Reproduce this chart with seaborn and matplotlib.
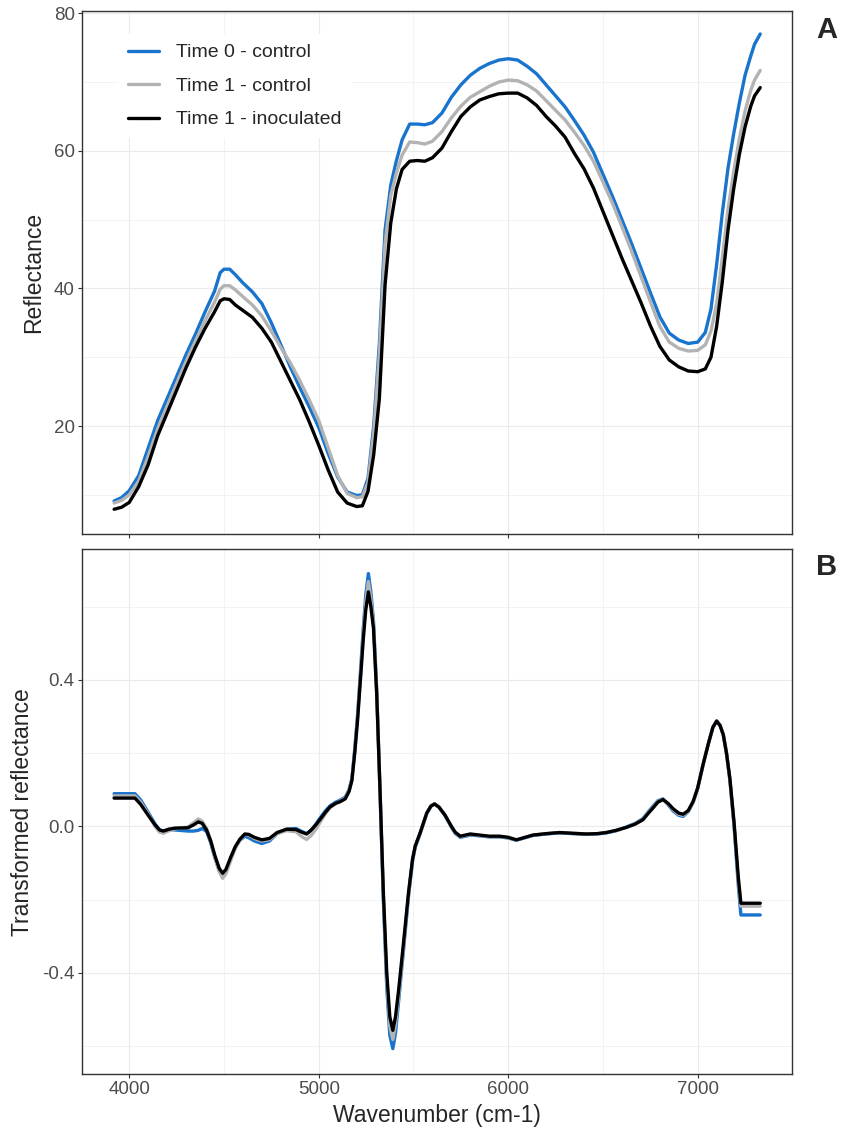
import numpy as np
import pandas as pd
import seaborn as sns
import matplotlib.pyplot as plt
from matplotlib.ticker import MultipleLocator, FormatStrFormatter

sns.set_style("white")
plt.rcParams['font.family'] = ['Liberation Sans', 'DejaVu Sans']
plt.rcParams['axes.unicode_minus'] = False

groups = ["Time 0 - control", "Time 1 - control", "Time 1 - inoculated"]
colors = ["#1874CD", "#B3B3B3", "#000000"]

# panel A: raw reflectance
wn_a = [3920, 3960, 4000, 4050, 4100, 4150, 4200, 4250, 4300, 4350,
        4400, 4450, 4480, 4500, 4530, 4560, 4600, 4650, 4700, 4750,
        4800, 4850, 4900, 4950, 5000, 5050, 5100, 5150, 5200, 5230,
        5260, 5290, 5320, 5350, 5380, 5410, 5440, 5480, 5520, 5560,
        5600, 5650, 5700, 5750, 5800, 5850, 5900, 5950, 6000, 6050,
        6100, 6150, 6200, 6250, 6300, 6350, 6400, 6450, 6500, 6550,
        6600, 6650, 6700, 6750, 6800, 6850, 6900, 6950, 7000, 7040,
        7070, 7100, 7130, 7160, 7190, 7220, 7250, 7280, 7300, 7330]

t0_ctrl_a = [9.1, 9.6, 10.6, 12.8, 16.8, 20.8, 24.0, 27.2, 30.4, 33.4,
             36.6, 39.6, 42.3, 42.8, 42.8, 42.0, 40.8, 39.5, 37.8, 35.0,
             31.8, 28.6, 25.6, 22.8, 19.8, 16.0, 12.6, 10.4, 9.9, 10.0,
             12.4, 20.0, 32.0, 48.5, 55.0, 58.6, 61.6, 63.9, 63.9, 63.8,
             64.1, 65.5, 67.8, 69.6, 71.0, 72.0, 72.7, 73.2, 73.4, 73.2,
             72.3, 71.2, 69.6, 68.0, 66.4, 64.4, 62.3, 59.8, 56.6, 53.4,
             50.0, 46.6, 43.0, 39.4, 35.9, 33.5, 32.5, 32.0, 32.2, 33.6,
             37.0, 43.5, 51.0, 57.5, 62.5, 67.0, 71.0, 73.8, 75.5, 77.0]

t1_ctrl_a = [8.8, 9.2, 10.0, 12.0, 15.6, 19.6, 22.9, 26.2, 29.4, 32.4,
             35.3, 38.0, 39.9, 40.4, 40.4, 39.8, 38.8, 37.6, 36.0, 33.8,
             31.4, 29.2, 26.6, 23.8, 20.8, 16.8, 12.8, 10.2, 9.6, 9.7,
             11.8, 19.0, 30.5, 46.5, 53.5, 56.8, 59.4, 61.3, 61.2, 61.0,
             61.4, 62.8, 64.8, 66.5, 67.8, 68.6, 69.4, 70.0, 70.3, 70.2,
             69.6, 68.7, 67.3, 65.9, 64.5, 62.7, 60.8, 58.5, 55.5, 52.4,
             49.0, 45.5, 41.8, 38.1, 34.5, 32.2, 31.3, 30.9, 31.0, 31.8,
             33.8, 37.8, 44.5, 51.5, 57.0, 61.8, 65.8, 68.8, 70.3, 71.7]

t1_inoc_a = [7.9, 8.2, 8.9, 11.2, 14.4, 18.6, 21.9, 25.2, 28.5, 31.5,
             34.2, 36.6, 38.2, 38.5, 38.4, 37.6, 36.8, 35.8, 34.2, 32.2,
             29.4, 26.6, 23.8, 20.6, 17.2, 13.6, 10.4, 8.8, 8.3, 8.4,
             10.5, 15.8, 24.0, 40.5, 49.5, 54.5, 57.3, 58.5, 58.6, 58.5,
             59.0, 60.4, 62.8, 65.0, 66.4, 67.4, 67.9, 68.3, 68.4, 68.4,
             67.7, 66.6, 65.0, 63.6, 62.0, 59.6, 57.4, 54.6, 51.2, 47.8,
             44.4, 41.2, 38.0, 34.6, 31.6, 29.6, 28.6, 28.0, 27.9, 28.3,
             30.0, 34.5, 41.0, 48.5, 54.5, 59.5, 63.5, 66.5, 68.0, 69.2]

# panel B: transformed reflectance
wn_b = [3920, 4000, 4030, 4060, 4100, 4136, 4160, 4180, 4210, 4240,
        4310, 4340, 4364, 4385, 4408, 4430, 4452, 4475, 4493, 4510,
        4535, 4560, 4584, 4610, 4630, 4660, 4700, 4740, 4780, 4830,
        4880, 4910, 4936, 4960, 4985, 5006, 5035, 5060, 5090, 5112,
        5140, 5160, 5175, 5190, 5205, 5220, 5235, 5248, 5262, 5275,
        5289, 5306, 5324, 5341, 5359, 5375, 5391, 5405, 5421, 5447,
        5474, 5495, 5509, 5535, 5570, 5592, 5611, 5635, 5667, 5700,
        5720, 5747, 5800, 5850, 5900, 5955, 6000, 6043, 6090, 6130,
        6200, 6271, 6340, 6412, 6470, 6518, 6570, 6623, 6670, 6711,
        6740, 6764, 6790, 6817, 6845, 6870, 6900, 6923, 6950, 6976,
        7000, 7029, 7056, 7080, 7100, 7118, 7135, 7152, 7170, 7192,
        7214, 7228, 7330]

t0_ctrl_b = [0.089, 0.089, 0.089, 0.072, 0.038, 0.006, -0.010, -0.013, -0.008, -0.010,
             -0.013, -0.013, -0.011, -0.006, -0.014, -0.045, -0.086, -0.122, -0.135, -0.123,
             -0.088, -0.057, -0.038, -0.027, -0.031, -0.040, -0.047, -0.040, -0.020, -0.008,
             -0.006, -0.014, -0.020, -0.012, 0.006, 0.022, 0.042, 0.056, 0.066, 0.071,
             0.080, 0.100, 0.130, 0.210, 0.305, 0.420, 0.540, 0.630, 0.690, 0.640,
             0.560, 0.370, 0.085, -0.200, -0.440, -0.570, -0.607, -0.565, -0.480, -0.340,
             -0.190, -0.095, -0.057, -0.020, 0.035, 0.055, 0.061, 0.052, 0.029, -0.002,
             -0.019, -0.030, -0.024, -0.026, -0.029, -0.029, -0.032, -0.038, -0.031, -0.025,
             -0.021, -0.018, -0.020, -0.022, -0.021, -0.018, -0.012, -0.002, 0.008, 0.021,
             0.040, 0.055, 0.070, 0.075, 0.058, 0.042, 0.030, 0.027, 0.040, 0.066,
             0.104, 0.170, 0.225, 0.270, 0.288, 0.276, 0.250, 0.198, 0.125, 0.000,
             -0.160, -0.242, -0.242]

t1_ctrl_b = [0.083, 0.083, 0.083, 0.066, 0.034, 0.000, -0.016, -0.019, -0.012, -0.007,
             -0.002, 0.010, 0.020, 0.014, -0.006, -0.040, -0.085, -0.124, -0.142, -0.130,
             -0.094, -0.060, -0.037, -0.022, -0.024, -0.033, -0.040, -0.036, -0.020, -0.012,
             -0.015, -0.028, -0.036, -0.025, -0.008, 0.010, 0.034, 0.051, 0.062, 0.068,
             0.078, 0.098, 0.128, 0.205, 0.298, 0.410, 0.525, 0.610, 0.668, 0.622,
             0.550, 0.365, 0.088, -0.190, -0.420, -0.545, -0.582, -0.542, -0.465, -0.330,
             -0.185, -0.092, -0.055, -0.019, 0.036, 0.056, 0.062, 0.053, 0.030, -0.001,
             -0.017, -0.028, -0.022, -0.025, -0.028, -0.028, -0.031, -0.037, -0.030, -0.024,
             -0.020, -0.017, -0.019, -0.021, -0.020, -0.017, -0.011, -0.003, 0.007, 0.019,
             0.038, 0.052, 0.068, 0.074, 0.060, 0.045, 0.033, 0.030, 0.041, 0.067,
             0.104, 0.170, 0.225, 0.270, 0.288, 0.276, 0.250, 0.199, 0.128, 0.005,
             -0.148, -0.218, -0.218]

t1_inoc_b = [0.077, 0.077, 0.077, 0.060, 0.030, 0.004, -0.010, -0.013, -0.008, -0.005,
             -0.004, 0.004, 0.012, 0.008, -0.010, -0.040, -0.080, -0.115, -0.128, -0.118,
             -0.085, -0.055, -0.035, -0.021, -0.022, -0.030, -0.037, -0.033, -0.017, -0.008,
             -0.009, -0.016, -0.021, -0.010, 0.004, 0.018, 0.038, 0.053, 0.063, 0.067,
             0.075, 0.095, 0.125, 0.200, 0.290, 0.400, 0.510, 0.590, 0.640, 0.600,
             0.540, 0.360, 0.090, -0.180, -0.400, -0.520, -0.557, -0.520, -0.450, -0.320,
             -0.180, -0.090, -0.054, -0.018, 0.036, 0.055, 0.061, 0.052, 0.030, 0.000,
             -0.016, -0.027, -0.021, -0.024, -0.027, -0.027, -0.030, -0.037, -0.030, -0.024,
             -0.020, -0.017, -0.019, -0.021, -0.020, -0.017, -0.011, -0.003, 0.006, 0.018,
             0.036, 0.050, 0.066, 0.073, 0.062, 0.048, 0.036, 0.033, 0.043, 0.068,
             0.105, 0.170, 0.225, 0.270, 0.287, 0.275, 0.250, 0.200, 0.130, 0.010,
             -0.138, -0.210, -0.210]


def long_df(wn, series):
    return pd.DataFrame({
        "wn": list(wn) * len(series),
        "val": [v for s in series for v in s],
        "group": np.repeat(groups, len(wn)),
    })


df_a = long_df(wn_a, [t0_ctrl_a, t1_ctrl_a, t1_inoc_a])
df_b = long_df(wn_b, [t0_ctrl_b, t1_ctrl_b, t1_inoc_b])

fig = plt.figure(figsize=(8.51, 11.39), dpi=100)
ax1 = fig.add_axes([0.096, 0.5309, 0.8343, 0.4597])
ax2 = fig.add_axes([0.096, 0.0568, 0.8343, 0.4612])

sns.lineplot(data=df_a, x="wn", y="val", hue="group", hue_order=groups,
             palette=colors, lw=2.4, estimator=None, ax=ax1)
sns.lineplot(data=df_b, x="wn", y="val", hue="group", hue_order=groups,
             palette=colors, lw=2.4, estimator=None, ax=ax2, legend=False)

for ax in (ax1, ax2):
    ax.set_xlim(3749, 7496)
    ax.xaxis.set_major_locator(MultipleLocator(1000))
    ax.xaxis.set_minor_locator(MultipleLocator(500))
    ax.grid(which="major", color="#EBEBEB", lw=0.8)
    ax.grid(which="minor", color="#EBEBEB", lw=0.4)
    ax.set_axisbelow(True)
    for sp in ax.spines.values():
        sp.set_color("#333333")
        sp.set_linewidth(1.0)
    ax.tick_params(which="major", direction="out", length=3, width=0.8,
                   color="#333333", labelsize=13.5, labelcolor="#4D4D4D", pad=2,
                   left=True, bottom=True)
    ax.tick_params(which="minor", length=0)

ax1.set_ylim(4.26, 80.38)
ax1.yaxis.set_major_locator(MultipleLocator(20))
ax1.yaxis.set_minor_locator(MultipleLocator(10))
ax1.tick_params(labelbottom=False)
ax1.set_xlabel("")
ax1.set_ylabel("Reflectance", fontsize=16.5, labelpad=6)

ax2.set_ylim(-0.677, 0.757)
ax2.yaxis.set_major_locator(MultipleLocator(0.4))
ax2.yaxis.set_minor_locator(MultipleLocator(0.2))
ax2.yaxis.set_major_formatter(FormatStrFormatter("%.1f"))
ax2.set_xlabel("Wavenumber (cm-1)", fontsize=16.5, labelpad=4)
ax2.set_ylabel("Transformed reflectance", fontsize=16.5, labelpad=6)

handles, labels = ax1.get_legend_handles_labels()
leg = ax1.legend(handles, labels, loc="upper left", bbox_to_anchor=(0.051, 0.9555),
                 borderaxespad=0, frameon=True, fontsize=14, handlelength=1.6,
                 handletextpad=0.9, labelspacing=0.82, borderpad=0.5)
leg.get_frame().set_facecolor("white")
leg.get_frame().set_edgecolor("none")
leg.get_frame().set_alpha(1)

fig.text(827 / 851, 1 - 30 / 1139, "A", fontsize=21, fontweight="bold",
         ha="center", va="center")
fig.text(827 / 851, 1 - 567 / 1139, "B", fontsize=21, fontweight="bold",
         ha="center", va="center")

fig.savefig("out.png", dpi=100)
